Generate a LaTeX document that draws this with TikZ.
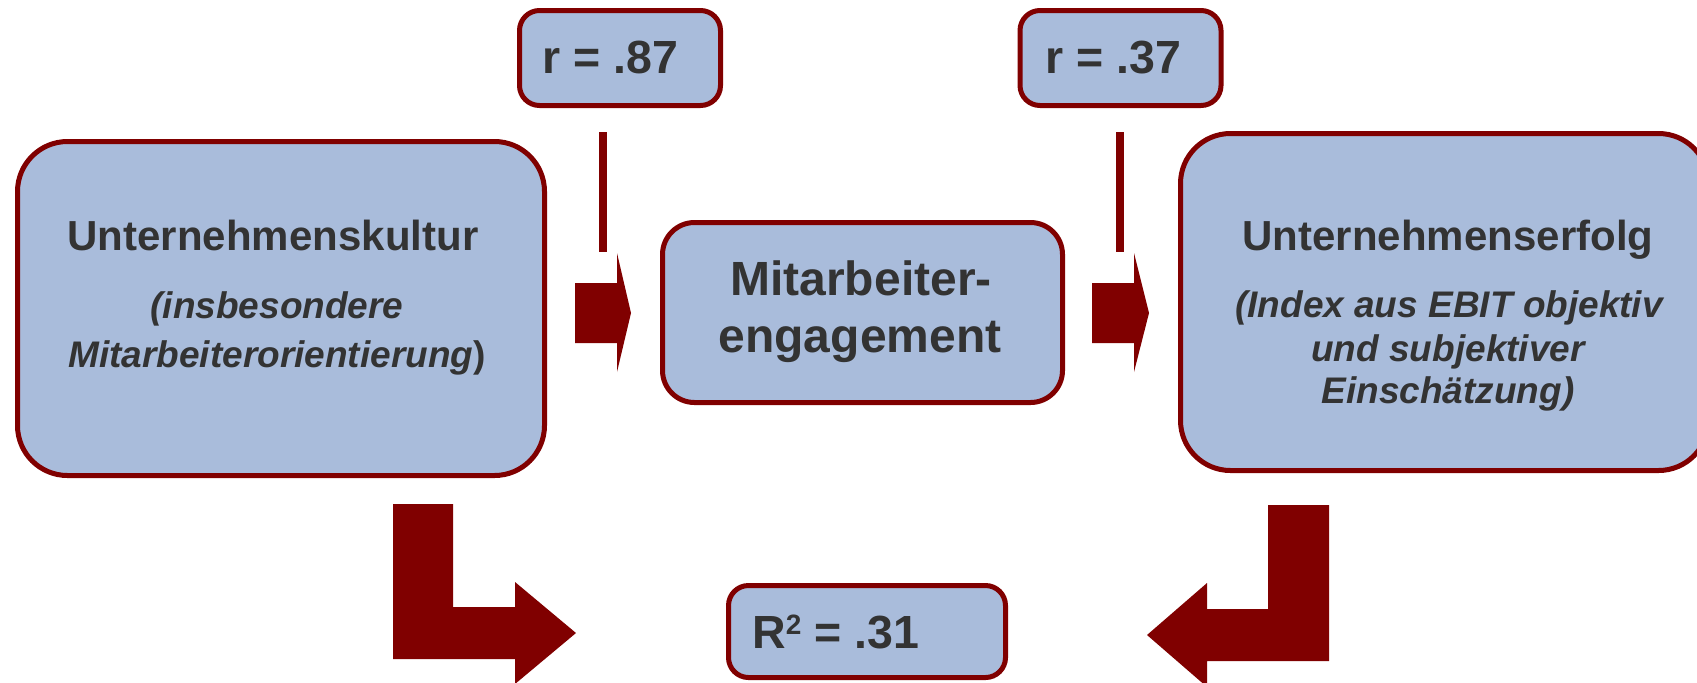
\documentclass[tikz,border=0pt]{standalone}
\usepackage{fontspec}
\setmainfont{Liberation Sans}
\definecolor{boxblue}{HTML}{A9BCDB}
\definecolor{darkred}{HTML}{800000}
\definecolor{textgray}{HTML}{333333}
\newcommand\headfont{\fontsize{21}{25}\selectfont\bfseries}
\newcommand\notefont{\fontsize{18.5}{22}\selectfont\bfseries\itshape}
\newcommand\bigfont{\fontsize{24}{28}\selectfont\bfseries}
\newcommand\coeffont{\fontsize{23.25}{28}\selectfont\bfseries}

\begin{document}
\begin{tikzpicture}[x=0.5pt,y=-0.5pt,
  box/.style={draw=darkred,line width=2.5pt,fill=boxblue,rectangle,inner sep=0pt},
  txt/.style={text=textgray,inner sep=0pt,anchor=base}]
\useasboundingbox (0,0) rectangle (1697,682);
% boxes
\node[box,rounded corners=25pt,minimum width=263.5pt,minimum height=167pt](kultur) at (281,308.5){};
\node[box,rounded corners=16pt,minimum width=200pt,minimum height=90pt](engagement) at (862.5,312.5){};
\node[box,rounded corners=25pt,minimum width=264pt,minimum height=168.5pt](erfolg) at (1444.5,302){};
\node[box,rounded corners=10pt,minimum width=100.5pt,minimum height=47.5pt](rkultur) at (620,58){};
\node[box,rounded corners=10pt,minimum width=100.5pt,minimum height=47.5pt](rerfolg) at (1120.5,58){};
\node[box,rounded corners=10pt,minimum width=138.5pt,minimum height=46pt](rsquared) at (867,631.5){};
% texts
\node[txt,font=\headfont](kulturtitle) at (273,250){Unternehmenskultur};
\node[txt,font=\notefont](kulturnotea) at (277,318){(insbesondere};
\node[txt,font=\notefont](kulturnoteb) at (277,367){Mitarbeiterorientierung{\upshape)}};
\node[txt,font=\bigfont](engagementa) at (861,295){Mitarbeiter-};
\node[txt,font=\bigfont](engagementb) at (860,352){engagement};
\node[txt,font=\headfont](erfolgtitle) at (1448,250){Unternehmenserfolg};
\node[txt,font=\notefont](erfolgnotea) at (1449,317){(Index aus EBIT objektiv};
\node[txt,font=\notefont](erfolgnoteb) at (1448,361){und subjektiver};
\node[txt,font=\notefont](erfolgnotec) at (1448,403){Einschätzung)};
\node[txt,anchor=base west,font=\coeffont](rkulturtext) at (542,73){r = .87};
\node[txt,anchor=base west,font=\coeffont](rerfolgtext) at (1045,73){r = .37};
\node[txt,anchor=base west,font=\coeffont](rsquaredtext) at (752,648){R\raisebox{6.6pt}{\fontsize{14}{14}\selectfont 2} = .31};
% arrows
\draw[darkred,line width=4pt] (603,132) -- (603,252);
\draw[darkred,line width=4pt] (1120,132) -- (1120,252);
\fill[darkred] (575,283) -- (617,283) -- (617,253) -- (631,313) -- (617,372) -- (617,343) -- (575,343) -- cycle;
\fill[darkred] (1092,283) -- (1134,283) -- (1134,253) -- (1149,313) -- (1134,372) -- (1134,343) -- (1092,343) -- cycle;
\fill[darkred] (393,504) -- (453,504) -- (453,607) -- (515,607) -- (515,582) -- (576,633) -- (515,684) -- (515,659) -- (393,659) -- cycle;
\fill[darkred] (1329,505) -- (1268,505) -- (1268,609) -- (1207,609) -- (1207,583) -- (1147,635) -- (1207,687) -- (1207,661) -- (1329,661) -- cycle;
\end{tikzpicture}
\end{document}
